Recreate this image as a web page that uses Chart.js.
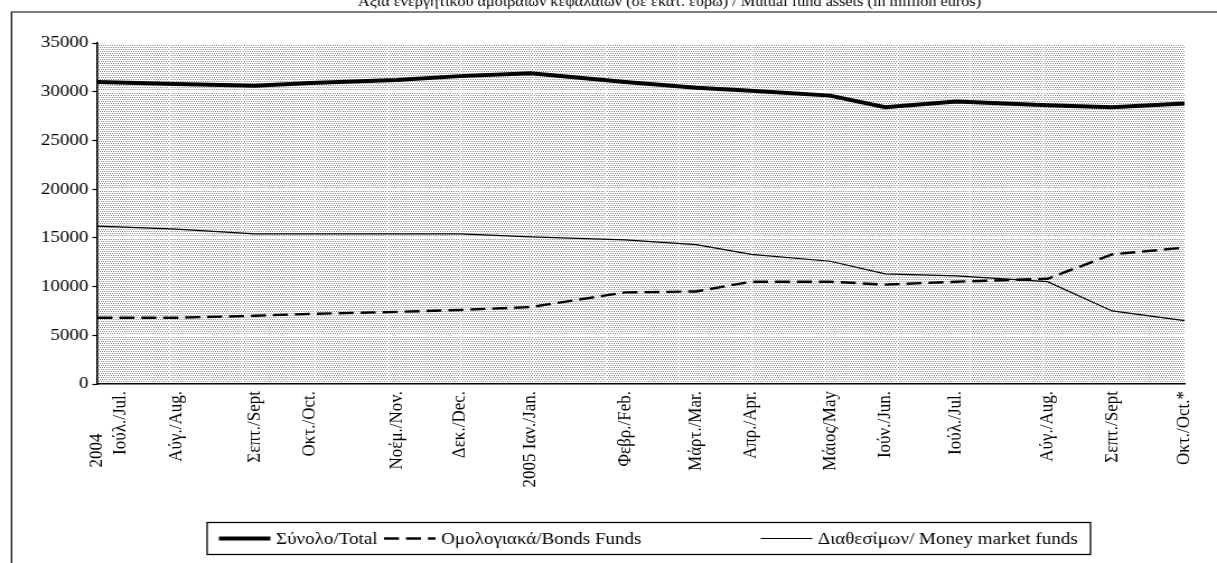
<!DOCTYPE html>
<html>
<head>
<meta charset="utf-8">
<script src="https://cdn.jsdelivr.net/npm/chart.js@4.4.1/dist/chart.umd.min.js"></script>
<style>
    html, body { margin: 0; padding: 0; background: #fff; overflow: hidden; }
    /* el original está estirado en horizontal */
    #wrap { width: 1087px; height: 563px; transform: scaleX(1.1196); transform-origin: 0 0; }
</style>
</head>
<body>
<div id="wrap"><canvas id="chart"></canvas></div>
<script>
const titleText = 'Αξία ενεργητικού αμοιβαίων κεφαλαίων (σε εκατ. ευρώ) / Mutual fund assets (in million euros)';

// semanas desde julio 2004
const weeks = [0, 5, 10, 13.5, 19, 23, 27.5, 33.5, 38, 41.5, 46.5, 50, 54.5, 60.3, 64.4, 69];
const monthLabels = [['2004          ', 'Ιούλ./Jul.'], 'Αύγ./Aug.', 'Σεπτ./Sept', 'Οκτ./Oct.', 'Νοέμ./Nov.', 'Δεκ./Dec.',
    '2005 Ιαν./Jan.', 'Φεβρ./Feb.', 'Μάρτ./Mar.', 'Απρ./Apr.', 'Μάιος/May', 'Ιούν./Jun.', 'Ιούλ./Jul.',
    'Αύγ./Aug.', 'Σεπτ./Sept', 'Οκτ./Oct.*'];

const totalFunds = [31000, 30800, 30600, 30900, 31200, 31600, 31900, 31000, 30400, 30100, 29600, 28400, 29000, 28600, 28400, 28800];
const bondFunds  = [6800, 6800, 7000, 7200, 7400, 7600, 7900, 9400, 9500, 10500, 10500, 10200, 10500, 10800, 13300, 14000];
const moneyFunds = [16200, 15900, 15400, 15400, 15400, 15400, 15100, 14800, 14300, 13300, 12600, 11300, 11100, 10500, 7500, 6500];

const seriesLabels = ['Σύνολο/Total', 'Ομολογιακά/Bonds Funds', 'Διαθεσίμων/ Money market funds'];
const yTicks = [0, 5000, 10000, 15000, 20000, 25000, 30000, 35000];

const FONT = '"Liberation Serif", "Times New Roman", serif';

function toPoints(values) {
    return values.map((v, i) => ({ x: weeks[i], y: v }));
}

// trama punteada del fondo
function makePattern(ctx) {
    const t = document.createElement('canvas');
    t.width = 65; t.height = 4;
    const g = t.getContext('2d');
    g.fillStyle = '#fff';
    g.fillRect(0, 0, 65, 4);
    g.fillStyle = '#8c8c8c';
    for (let x = 0; x < 63; x += 2) {
        g.fillRect(x, 0, 1, 1);
        g.fillRect(x + 1, 2, 1, 1);
    }
    return ctx.createPattern(t, 'repeat');
}

const backdrop = {
    id: 'backdrop',
    beforeDraw(chart) {
        const { ctx, chartArea: a, width, height } = chart;
        ctx.save();
        const pat = makePattern(ctx);
        pat.setTransform(new DOMMatrix().translate(a.left, a.top));
        ctx.fillStyle = pat;
        ctx.fillRect(a.left, a.top, a.right - a.left, a.bottom - a.top);

        // marco exterior
        ctx.strokeStyle = '#000';
        ctx.lineWidth = 1.2;
        ctx.beginPath();
        ctx.moveTo(10.3, height);
        ctx.lineTo(10.3, 12);
        ctx.lineTo(width, 12);
        ctx.stroke();

        // titulo (cortado arriba)
        ctx.fillStyle = '#000';
        ctx.font = '14.5px ' + FONT;
        ctx.textAlign = 'center';
        ctx.textBaseline = 'alphabetic';
        ctx.fillText(titleText, 598, 6);
        ctx.restore();
    }
};

const boxLegend = {
    id: 'boxLegend',
    afterDraw(chart) {
        const { ctx } = chart;
        const y = 538.5;
        ctx.save();
        ctx.strokeStyle = '#000';
        ctx.lineWidth = 1.3;
        ctx.strokeRect(185, 522.5, 789, 32);
        ctx.font = '17px ' + FONT;
        ctx.textBaseline = 'middle';
        ctx.textAlign = 'left';
        // la ultima entrada va pegada al borde derecho
        const lastW = ctx.measureText(seriesLabels[2]).width;
        const starts = [195.5, 343, 962.5 - lastW - 51];
        chart.data.datasets.forEach((ds, i) => {
            const x = starts[i];
            ctx.strokeStyle = ds.borderColor;
            ctx.lineWidth = ds.borderWidth;
            ctx.setLineDash(ds.borderDash || []);
            ctx.beginPath();
            ctx.moveTo(x, y);
            ctx.lineTo(x + 46, y);
            ctx.stroke();
            ctx.setLineDash([]);
            ctx.fillStyle = '#000';
            ctx.fillText(ds.label, x + 51, y + 1);
        });
        ctx.restore();
    }
};

const ctx = document.getElementById('chart').getContext('2d');

new Chart(ctx, {
    type: 'line',
    data: {
        datasets: [{
            label: seriesLabels[0],
            data: toPoints(totalFunds),
            borderColor: '#000',
            borderWidth: 4,
            pointRadius: 0,
            tension: 0
        }, {
            label: seriesLabels[1],
            data: toPoints(bondFunds),
            borderColor: '#000',
            borderWidth: 2.4,
            borderDash: [13.4, 6.2],
            pointRadius: 0,
            tension: 0
        }, {
            label: seriesLabels[2],
            data: toPoints(moneyFunds),
            borderColor: '#000',
            borderWidth: 1.2,
            pointRadius: 0,
            tension: 0
        }]
    },
    options: {
        responsive: true,
        maintainAspectRatio: false,
        animation: false,
        layout: { padding: { top: 43, right: 29, left: 0, bottom: 0 } },
        plugins: {
            legend: { display: false },
            title: { display: false },
            tooltip: { enabled: false }
        },
        scales: {
            x: {
                type: 'linear',
                min: weeks[0],
                max: weeks[weeks.length - 1],
                afterBuildTicks: (axis) => { axis.ticks = weeks.map(v => ({ value: v })); },
                afterFit: (scale) => { scale.height = 179; },
                grid: { display: false, drawTicks: false },
                border: { display: true, color: '#000', width: 1.6 },
                ticks: {
                    autoSkip: false,
                    maxRotation: 90,
                    minRotation: 90,
                    padding: 7,
                    color: '#000',
                    font: { family: FONT, size: 17 },
                    callback: (value, index) => monthLabels[index]
                }
            },
            y: {
                min: 0,
                max: 35000,
                afterBuildTicks: (axis) => { axis.ticks = yTicks.map(v => ({ value: v })); },
                afterFit: (scale) => { scale.width = 87; },
                grid: {
                    color: 'rgba(255, 255, 255, 0.9)',
                    lineWidth: 1,
                    tickColor: '#000',
                    tickLength: 4.5,
                    tickWidth: 1.2
                },
                border: { display: true, color: '#000', width: 1.6 },
                ticks: {
                    padding: 3.5,
                    color: '#000',
                    font: { family: FONT, size: 17 },
                    callback: (value) => String(value)
                }
            }
        }
    },
    plugins: [backdrop, boxLegend]
});
</script>
</body>
</html>
